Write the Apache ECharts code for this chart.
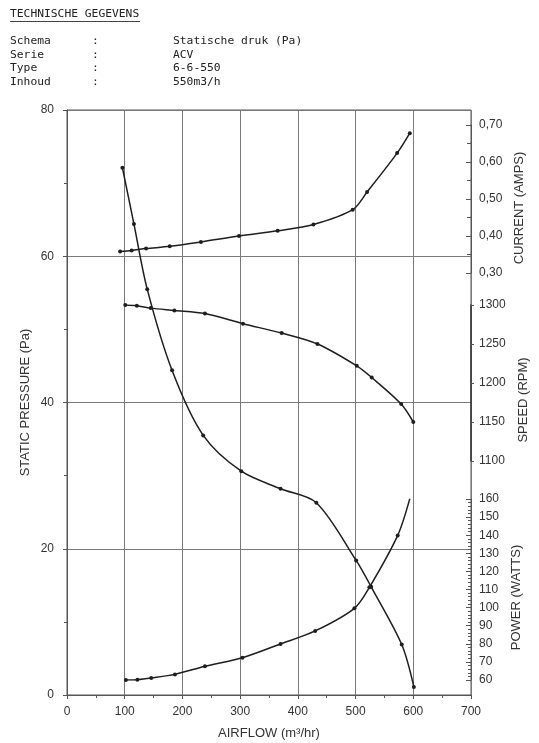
<!DOCTYPE html>
<html>
<head>
<meta charset="utf-8">
<script src="https://cdn.jsdelivr.net/npm/echarts@6/dist/echarts.min.js"></script>
<style>
  html, body { margin: 0; padding: 0; background: #fff; }
  #chart { width: 539px; height: 743px; }
</style>
</head>
<body>
<div id="chart"></div>
<script>
// header rows
var headerLabels = ['Schema', 'Serie', 'Type', 'Inhoud'];
var headerValues = ['Statische druk (Pa)', 'ACV', '6-6-550', '550m3/h'];

// static pressure (Pa) vs airflow
var pressureX = [96, 116, 139, 182, 236, 302, 370, 432, 501, 527, 580, 601];
var pressureY = [72.1, 64.4, 55.5, 44.4, 35.5, 30.6, 28.2, 26.3, 18.4, 14.8, 6.9, 1.1];
// current (A)
var currentX = [92, 112, 137, 178, 232, 298, 365, 427, 495, 520, 572, 594];
var currentY = [0.358, 0.361, 0.366, 0.372, 0.384, 0.400, 0.414, 0.431, 0.471, 0.519, 0.624, 0.678];
// speed (rpm)
var speedX = [101, 121, 145, 186, 239, 305, 372, 434, 502, 528, 579, 600];
var speedY = [1300, 1299, 1296, 1293, 1289, 1276, 1264, 1250, 1222, 1207, 1173, 1150];
// power (W)
var powerX = [102, 122, 146, 187, 239, 304, 370, 430, 498, 524, 573, 594];
var powerY = [60, 60.2, 61.1, 63.1, 67.6, 72.3, 79.9, 87.1, 99.6, 111.2, 139.9, 160.2];

function pairs(xs, ys) {
  return xs.map(function (x, i) { return [x, ys[i]]; });
}

var dom = document.getElementById('chart');
var myChart = echarts.init(dom, null, { renderer: 'canvas' });

var lineCol = '#1e1e1e';
var gridCol = '#7a7a7a';
var axisCol = '#555';
var labelFont = { color: '#333', fontSize: 12, fontFamily: 'Liberation Sans' };
var mono = 'DejaVu Sans Mono';

function nameFont(shift) {
  // shift the rotated name down the axis a little
  return { color: '#333', fontSize: 13, fontFamily: 'Liberation Sans', padding: [0, shift || 0, 0, 0] };
}

function curve(xi, yi, data) {
  return {
    type: 'line',
    xAxisIndex: xi,
    yAxisIndex: yi,
    data: data,
    smooth: 0.3,
    symbol: 'circle',
    symbolSize: 4,
    itemStyle: { color: lineCol },
    lineStyle: { color: lineCol, width: 1.5 },
    animation: false
  };
}

var header = [
  { type: 'text', left: 10, top: 9, style: { text: 'TECHNISCHE GEGEVENS', font: '11.3px ' + mono, fill: '#222' } },
  { type: 'line', shape: { x1: 10, y1: 21.5, x2: 140, y2: 21.5 }, style: { stroke: '#444', lineWidth: 1 } }
];
headerLabels.forEach(function (lab, i) {
  var y = 36 + i * 13.5;
  header.push({ type: 'text', left: 10, top: y, style: { text: lab, font: '11.3px ' + mono, fill: '#222' } });
  header.push({ type: 'text', left: 92, top: y, style: { text: ':', font: '11.3px ' + mono, fill: '#222' } });
  header.push({ type: 'text', left: 173, top: y, style: { text: headerValues[i], font: '11.3px ' + mono, fill: '#222' } });
});

var subX = function (g) {
  return { type: 'value', gridIndex: g, min: 0, max: 700, show: false };
};

var option = {
  backgroundColor: '#fff',
  graphic: header,
  grid: [
    { left: 67, right: 68, top: 110, bottom: 48, outerBoundsMode: 'none', show: true, borderColor: axisCol, borderWidth: 1, backgroundColor: 'transparent' },
    { left: 67, right: 68, top: 125, bottom: 470, outerBoundsMode: 'none' },
    { left: 67, right: 68, top: 305, bottom: 282, outerBoundsMode: 'none' },
    { left: 67, right: 68, top: 499, bottom: 63, outerBoundsMode: 'none' }
  ],
  xAxis: [
    {
      type: 'value', gridIndex: 0, min: 0, max: 700, interval: 100,
      name: 'AIRFLOW (m³/hr)', nameLocation: 'middle', nameGap: 32, nameTextStyle: nameFont(0),
      axisLine: { show: true, lineStyle: { color: axisCol } },
      axisTick: { show: true, length: 4, lineStyle: { color: axisCol } },
      minorTick: { show: true, splitNumber: 2, length: 3, lineStyle: { color: axisCol } },
      axisLabel: Object.assign({ margin: 11 }, labelFont),
      splitLine: { show: true, lineStyle: { color: gridCol, width: 1 } }
    },
    subX(1), subX(2), subX(3)
  ],
  yAxis: [
    {
      type: 'value', gridIndex: 0, position: 'left', min: 0, max: 80, interval: 20,
      name: 'STATIC PRESSURE (Pa)', nameLocation: 'middle', nameGap: 35, nameMoveOverlap: false,
      nameRotate: 90, nameTextStyle: nameFont(0),
      axisLine: { show: true, lineStyle: { color: axisCol } },
      axisTick: { show: true, length: 4, lineStyle: { color: axisCol } },
      minorTick: { show: true, splitNumber: 2, length: 3, lineStyle: { color: axisCol } },
      axisLabel: Object.assign({ margin: 13 }, labelFont),
      splitLine: { show: true, lineStyle: { color: gridCol, width: 1 } }
    },
    {
      type: 'value', gridIndex: 1, position: 'right', min: 0.3, max: 0.7, interval: 0.1,
      name: 'CURRENT (AMPS)', nameLocation: 'middle', nameGap: 34, nameRotate: 90, nameTextStyle: nameFont(18),
      axisLine: { show: true, onZero: false, lineStyle: { color: axisCol } },
      axisTick: { show: true, inside: true, length: 5, lineStyle: { color: axisCol } },
      minorTick: { show: true, splitNumber: 2, length: 4, lineStyle: { color: axisCol } },
      axisLabel: Object.assign({ margin: 8, formatter: function (v) { return v.toFixed(2).replace('.', ','); } }, labelFont),
      splitLine: { show: false }
    },
    {
      type: 'value', gridIndex: 2, position: 'right', min: 1100, max: 1300, interval: 50,
      name: 'SPEED (RPM)', nameLocation: 'middle', nameGap: 46, nameRotate: 90, nameTextStyle: nameFont(34),
      axisLine: { show: true, onZero: false, lineStyle: { color: '#333', width: 1.5 } },
      axisTick: { show: true, length: 3, lineStyle: { color: axisCol } },
      axisLabel: Object.assign({ margin: 8, formatter: function (v) { return String(v); } }, labelFont),
      splitLine: { show: false }
    },
    {
      type: 'value', gridIndex: 3, position: 'right', min: 60, max: 160, interval: 10,
      name: 'POWER (WATTS)', nameLocation: 'middle', nameGap: 34, nameRotate: 90, nameTextStyle: nameFont(16),
      axisLine: { show: true, onZero: false, lineStyle: { color: axisCol } },
      axisTick: { show: true, inside: true, length: 5, lineStyle: { color: axisCol } },
      minorTick: { show: true, splitNumber: 5, length: 3, lineStyle: { color: axisCol } },
      axisLabel: Object.assign({ margin: 8 }, labelFont),
      splitLine: { show: false }
    }
  ],
  series: [
    curve(0, 0, pairs(pressureX, pressureY)),
    curve(1, 1, pairs(currentX, currentY)),
    curve(2, 2, pairs(speedX, speedY)),
    curve(3, 3, pairs(powerX, powerY))
  ]
};

myChart.setOption(option);
window.onresize = myChart.resize;
</script>
</body>
</html>
